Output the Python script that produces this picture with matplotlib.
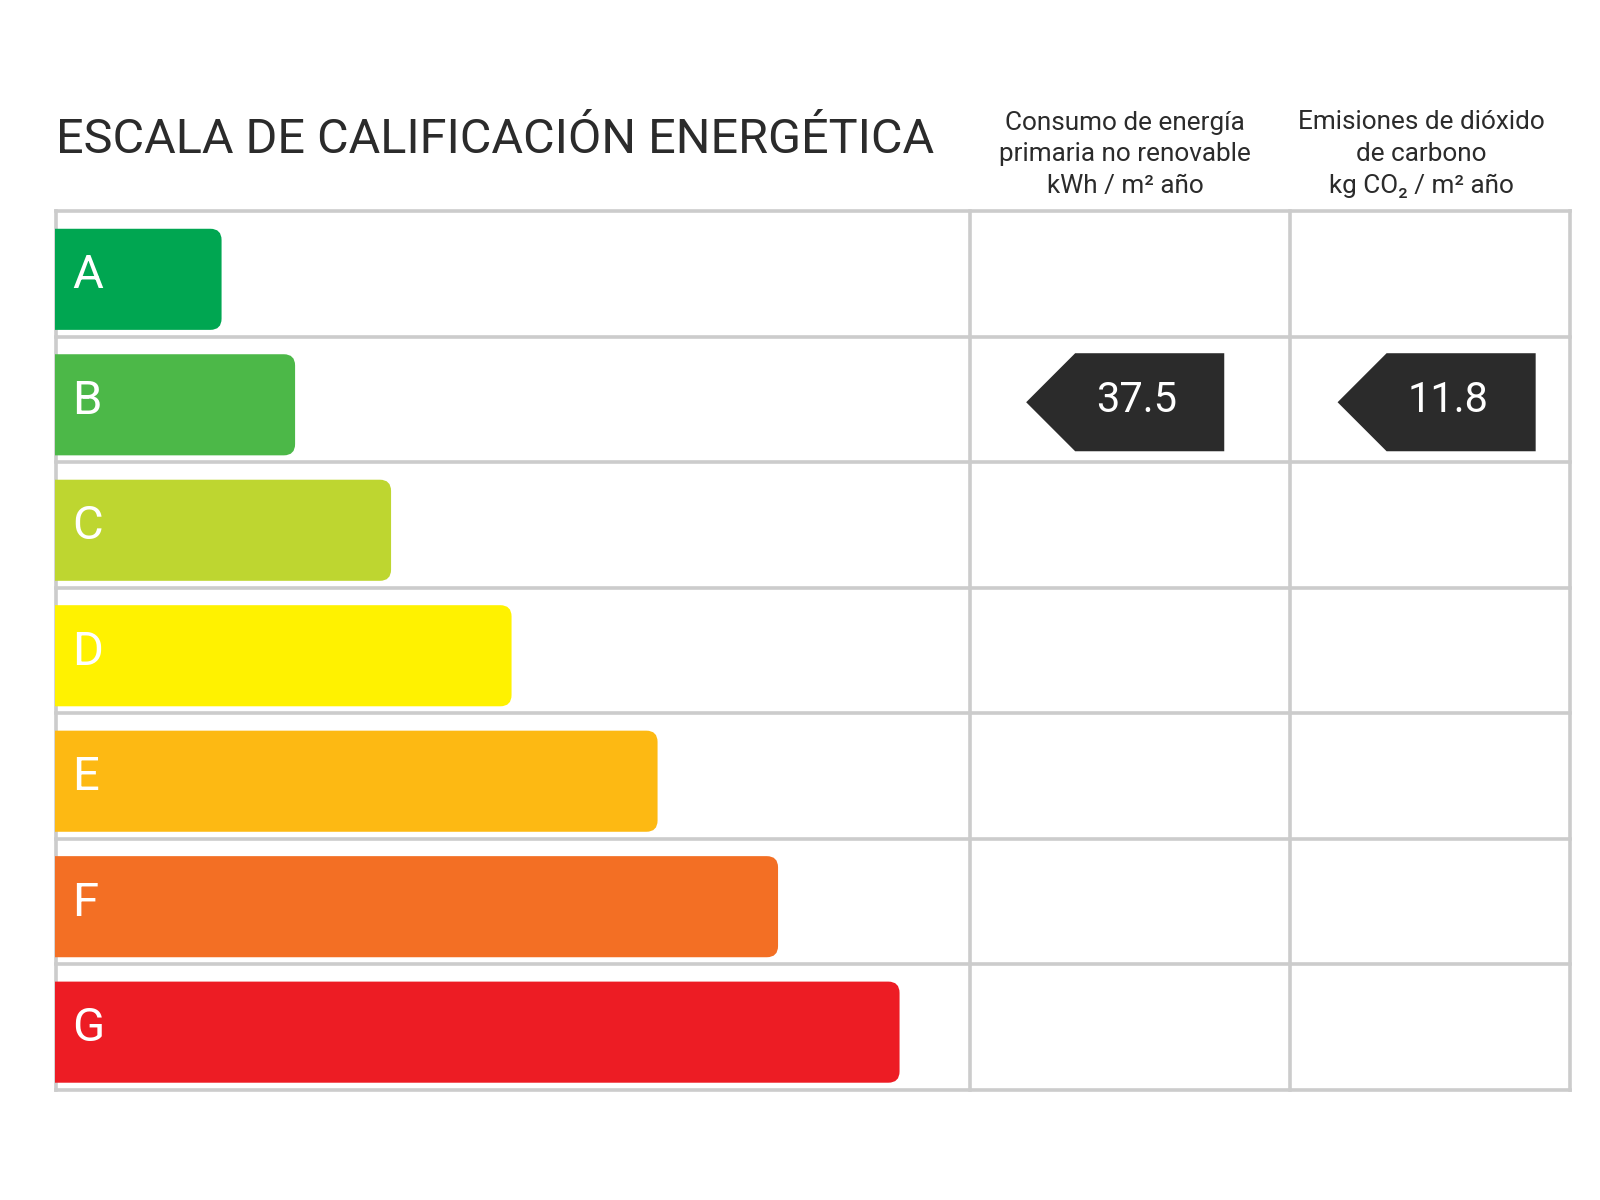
import matplotlib.pyplot as plt
from matplotlib.patches import FancyBboxPatch, Rectangle, Polygon

# Escala de calificación energética
letras = ["A", "B", "C", "D", "E", "F", "G"]
longitudes = [163, 235, 329, 447, 590, 708, 827]
colores = ["#00a651", "#4cb848", "#bed630", "#fff200", "#fdb913", "#f36f24", "#ed1c24"]

# Valores del edificio
clase = "B"
consumo = "37.5"
emisiones = "11.8"

cab_consumo = "Consumo de energía\nprimaria no renovable\nkWh / m² año"
cab_emisiones = "Emisiones de dióxido\nde carbono\nkg CO₂ / m² año"
titulo = "ESCALA DE CALIFICACIÓN ENERGÉTICA"

fuente = ["Roboto", "DejaVu Sans"]
gris = "#cccccc"
oscuro = "#2b2b2b"

fig = plt.figure(figsize=(16, 12), dpi=100)
ax = fig.add_axes([0, 0, 1, 1])
ax.set_xlim(0, 1567)
ax.set_ylim(1175, 0)
ax.axis("off")

x0, x1, x2, x3 = 55, 950, 1263, 1538
y_top = 207
alto = 122.86
y_bot = y_top + alto * len(letras)

# Rejilla
for i in range(len(letras) + 1):
    ax.plot([x0, x3], [y_top + i * alto] * 2, color=gris, lw=2.6, zorder=1, solid_capstyle="projecting")
for x in [x0, x1, x2, x3]:
    ax.plot([x, x], [y_top, y_bot], color=gris, lw=2.6, zorder=1, solid_capstyle="projecting")

# Barras (esquinas redondeadas solo a la derecha)
for i, (letra, largo, color) in enumerate(zip(letras, longitudes, colores)):
    top = y_top + i * alto + 17
    h = 99
    barra = FancyBboxPatch((x0 - 40, top), largo + 39, h, boxstyle="round,pad=0,rounding_size=11",
                           fc=color, ec="none", zorder=2)
    ax.add_patch(barra)
    recorte = Rectangle((x0 - 1, top - 5), largo + 10, h + 10, transform=ax.transData)
    barra.set_clip_path(recorte)
    ax.text(x0 + 16, top + h / 2 - 4, letra, color="white", fontsize=34, family=fuente,
            va="center", ha="left", zorder=3)

# Flechas con los valores
fila = letras.index(clase)
cy = y_top + fila * alto + 64
for valor, punta in [(consumo, 1005), (emisiones, 1310)]:
    cuerpo = punta + 48
    dcha = punta + 194
    ax.add_patch(Polygon([(punta, cy), (cuerpo, cy - 48), (dcha, cy - 48), (dcha, cy + 48), (cuerpo, cy + 48)],
                         closed=True, fc=oscuro, ec="none", zorder=3))
    ax.text((punta + dcha) / 2 + 11, cy - 2, valor, color="white", fontsize=30, family=fuente,
            va="center", ha="center", zorder=4)

# Textos
ax.text(x0, 150, titulo, color=oscuro, fontsize=35, family=fuente, va="baseline", ha="left")
ax.text(1102, 151, cab_consumo, color=oscuro, fontsize=18.8, family=fuente, va="center", ha="center",
        linespacing=1.4)
ax.text(1392, 151, cab_emisiones, color=oscuro, fontsize=18.8, family=fuente, va="center", ha="center",
        linespacing=1.4)

fig.savefig("out.png", dpi=100, facecolor="white")
